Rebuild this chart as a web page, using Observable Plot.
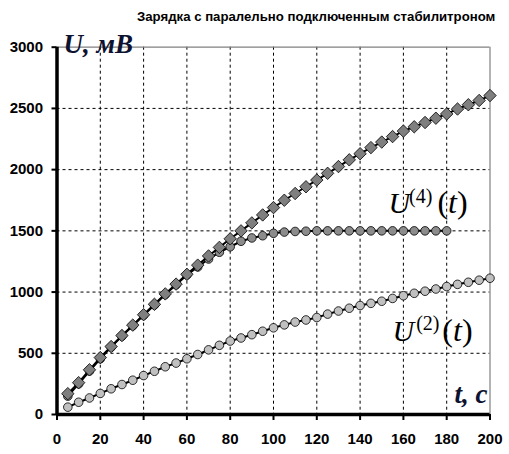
<!DOCTYPE html>
<html><head><meta charset="utf-8">
<script src="https://cdn.jsdelivr.net/npm/d3@7"></script>
<script src="https://cdn.jsdelivr.net/npm/@observablehq/plot@0.6"></script>
<style>
body{margin:0;background:#fff;}
#wrap{position:relative;width:509px;height:454px;}
#title{position:absolute;top:9px;left:137px;font:bold 13.2px "Liberation Sans",Arial,sans-serif;color:#000;white-space:nowrap;}
</style></head><body>
<div id="wrap"><div id="title">Зарядка с паралельно подключенным стабилитроном</div></div>
<script>
const time = [5,10,15,20,25,30,35,40,45,50,55,60,65,70,75,80,85,90,95,100,105,110,115,120,125,130,135,140,145,150,155,160,165,170,175,180,185,190,195,200];
const uMain = [170,260,365,465,555,645,730,815,900,985,1065,1145,1220,1295,1365,1435,1500,1565,1630,1690,1750,1805,1860,1915,1970,2025,2080,2130,2180,2225,2270,2315,2350,2385,2420,2455,2495,2530,2565,2605];
const u4 = [150,250,355,455,550,640,725,810,895,980,1060,1140,1205,1270,1325,1370,1415,1442,1460,1480,1490,1495,1497,1500,1500,1500,1500,1500,1500,1500,1500,1500,1500,1500,1500,1500];
const u2 = [60,100,135,172,210,245,280,318,353,390,420,455,490,528,565,600,625,652,680,708,732,755,772,792,820,845,868,890,908,925,948,970,990,1007,1025,1045,1063,1080,1097,1113];
const xTicks = [0,20,40,60,80,100,120,140,160,180,200];
const yTicks = [0,500,1000,1500,2000,2500,3000];

const mainData = time.map((t,i)=>({t, u:uMain[i]}));
const u4Data = u4.map((u,i)=>({t:time[i], u}));
const u2Data = time.map((t,i)=>({t, u:u2[i]}));

const serif = "'Liberation Serif','Times New Roman',serif";
const sans = "'Liberation Sans',Arial,sans-serif";

const chart = Plot.plot({
  width: 509,
  height: 454,
  marginLeft: 56.5,
  marginRight: 19.5,
  marginTop: 46.7,
  marginBottom: 40,
  style: {fontFamily: sans, background: "#fff", overflow: "visible"},
  x: {domain: [0,200]},
  y: {domain: [0,3000]},
  marks: [
    Plot.ruleX(xTicks.filter(d=>d>0&&d<200), {stroke:"#000", strokeWidth:1, strokeDasharray:"3,3"}),
    Plot.ruleY(yTicks.filter(d=>d>0&&d<3000), {stroke:"#000", strokeWidth:1, strokeDasharray:"3,3"}),
    Plot.ruleY([3000], {stroke:"#808080", strokeWidth:1.2}),
    Plot.ruleX([200], {stroke:"#808080", strokeWidth:1.2}),
    Plot.line(u2Data, {x:"t", y:"u", stroke:"#000", strokeWidth:2}),
    Plot.dot(u2Data, {x:"t", y:"u", r:4.3, fill:"#c0c0c0", stroke:"#000", strokeWidth:0.8}),
    Plot.line(u4Data, {x:"t", y:"u", stroke:"#000", strokeWidth:2}),
    Plot.dot(u4Data, {x:"t", y:"u", r:4.3, fill:"#8c8c8c", stroke:"#000", strokeWidth:0.8}),
    Plot.line(mainData, {x:"t", y:"u", stroke:"#000", strokeWidth:2}),
    Plot.dot(mainData, {x:"t", y:"u", symbol:"diamond2", r:5.6, fill:"#7f7f7f", stroke:"#000", strokeWidth:0.8}),
    Plot.ruleX([0], {stroke:"#000", strokeWidth:3.5}),
    Plot.ruleY([0], {stroke:"#000", strokeWidth:3.5}),
    Plot.axisY({ticks: yTicks, tickSize:5, tickPadding:9, strokeWidth:2, label:null, fontSize:15, fontWeight:"bold", fontFamily:sans, fill:"#000", tickFormat:d=>String(d)}),
    Plot.axisX({ticks: xTicks, tickSize:6, tickPadding:13, strokeWidth:2, label:null, fontSize:15, fontWeight:"bold", fontFamily:sans, fill:"#000", tickFormat:d=>String(d)}),
    Plot.text([{x:3, y:2949, s:"U, мВ"}], {x:"x", y:"y", text:"s", textAnchor:"start", lineAnchor:"bottom", fontFamily:serif, fontSize:27, fontWeight:"bold", fontStyle:"italic", fill:"#0c1230"}),
    Plot.text([{x:198.8, y:98, s:"t, c"}], {x:"x", y:"y", text:"s", textAnchor:"end", lineAnchor:"bottom", fontFamily:serif, fontSize:27, fontWeight:"bold", fontStyle:"italic", fill:"#0c1230"}),
    Plot.text([{x:153.1, y:1642, s:"U"}], {x:"x", y:"y", text:"s", textAnchor:"start", lineAnchor:"bottom", fontFamily:serif, fontSize:30, fontStyle:"italic", fill:"#000"}),
    Plot.text([{x:162.6, y:1725, s:"(4)"}], {x:"x", y:"y", text:"s", textAnchor:"start", lineAnchor:"bottom", fontFamily:serif, fontSize:20, fill:"#000"}),
    Plot.text([{x:175.7, y:1642, s:"(t)"}], {x:"x", y:"y", text:"s", textAnchor:"start", lineAnchor:"bottom", fontFamily:serif, fontSize:32, fill:"#000"}),
    Plot.text([{x:155, y:604, s:"U"}], {x:"x", y:"y", text:"s", textAnchor:"start", lineAnchor:"bottom", fontFamily:serif, fontSize:30, fontStyle:"italic", fill:"#000"}),
    Plot.text([{x:165.9, y:688, s:"(2)"}], {x:"x", y:"y", text:"s", textAnchor:"start", lineAnchor:"bottom", fontFamily:serif, fontSize:20, fill:"#000"}),
    Plot.text([{x:178, y:604, s:"(t)"}], {x:"x", y:"y", text:"s", textAnchor:"start", lineAnchor:"bottom", fontFamily:serif, fontSize:32, fill:"#000"})
  ]
});
// italicize the t inside the parentheses
d3.select(chart).selectAll("text").each(function(){
  const el = d3.select(this);
  if (el.text() === "(t)") {
    const tn = el.select("tspan").empty() ? el : el.select("tspan");
    tn.text(null);
    tn.append("tspan").text("(");
    tn.append("tspan").attr("font-style","italic").text("t");
    tn.append("tspan").text(")");
  }
});
document.getElementById("wrap").prepend(chart);
chart.style.position = "absolute";
chart.style.left = "0";
chart.style.top = "0";
</script>
</body></html>
